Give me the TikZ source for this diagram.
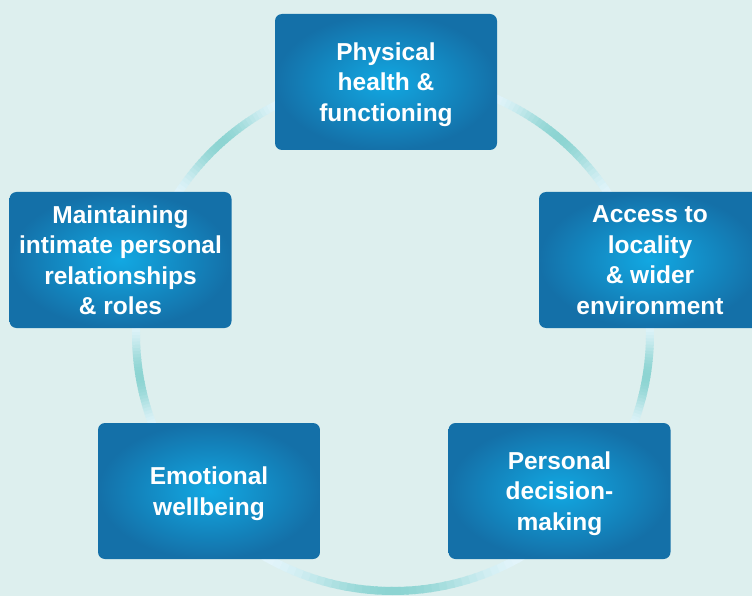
\documentclass[tikz,border=0pt]{standalone}
\usepackage{fontspec}
\usepackage{xcolor}
\setmainfont{Liberation Sans}
\definecolor{bg}{HTML}{DDEFEE}
\definecolor{ringteal}{HTML}{8DD4D2}
\definecolor{ringlight}{HTML}{E3F5FB}
\definecolor{boxin}{HTML}{12A8E2}
\definecolor{boxout}{HTML}{1470A8}

\begin{document}
\begin{tikzpicture}[x=1pt, y=-1pt,
    area/.style={rounded corners=7pt, minimum width=222pt, minimum height=136pt,
      inner color=boxin, outer color=boxout, text=white, align=center,
      text depth=0pt, font=\bfseries\fontsize{24.5}{30.5}\selectfont}]
  \fill[bg] (0,0) rectangle (752,596);
  \useasboundingbox (0,0) rectangle (752,596);
  \clip (0,0) rectangle (752,596);
  \coordinate (c) at (393,334);
  % ring, fading towards the boxes
  \foreach \ga/\gb in {-68/-31.5, -3.3/22.3, 59/121, 157.7/183.3, 211.5/244.7}
    \foreach \i in {0,...,35} {
      \pgfmathsetmacro\sa{\ga+(\gb-\ga)*\i/36}
      \pgfmathsetmacro\ea{\ga+(\gb-\ga)*(\i+1.3)/36}
      \pgfmathsetmacro\fr{100*sin(180*(\i+0.5)/36)^2}
      \draw[line width=8pt, color=ringteal!\fr!ringlight]
        (c) ++(\sa:257) arc[start angle=\sa, end angle=\ea, radius=257];
    }
  \node[area] (phys) at (386,82) {Physical\\health \&\\functioning};
  \node[area] (access) at (650,260) {Access to\\locality\\\& wider\\environment};
  \node[area] (decide) at (559.5,491) {Personal\\decision-\\making};
  \node[area] (emo) at (209,491) {Emotional\\wellbeing};
  \node[area] (maint) at (120.5,260) {Maintaining\\intimate personal\\relationships\\\& roles};
\end{tikzpicture}
\end{document}
